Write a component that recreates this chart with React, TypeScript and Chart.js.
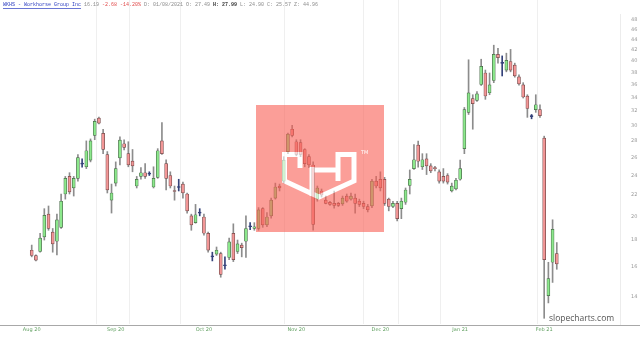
import React, { useEffect, useRef } from "react";
import { Chart, registerables } from "chart.js";

Chart.register(...registerables);

// Daily OHLC values
const opens = [
  17.2, 16.8, 17.1, 18.25, 20.2, 18.65, 17.9, 19.05, 22.1, 23.9,
  22.7, 23.7, 25.3, 24.95, 25.7, 28.7, 31.0, 28.95, 26.35, 21.5,
  23.2, 25.95, 27.65, 26.45, 25.6, 22.9, 23.9, 24.3, 24.2, 22.8,
  23.8, 28.0, 25.3, 24.0, 22.45, 22.8, 23.1, 22.1, 20.05, 19.45,
  20.35, 19.95, 18.55, 16.75, 16.9, 16.95, 16.1, 16.65, 18.55, 17.1,
  17.6, 17.9, 19.15, 18.95, 18.95, 20.7, 19.25, 20.05, 21.7, 22.9,
  23.4, 26.7, 29.5, 27.9, 27.8, 26.95, 26.1, 25.15, 21.6, 22.4,
  21.5, 21.3, 21.2, 21.2, 21.15, 21.9, 21.6, 21.7, 21.4, 21.2,
  20.9, 20.95, 23.4, 23.6, 23.6, 21.6, 20.9, 21.2, 20.7, 21.3,
  22.95, 24.75, 27.49, 24.95, 25.85, 25.05, 24.85, 24.4, 23.9, 24.0,
  22.4, 22.6, 23.6, 27.05, 31.8, 33.8, 33.55, 36.0, 37.9, 34.7,
  36.65, 41.2, 39.6, 38.4, 39.9, 39.25, 37.25, 35.95, 34.2, 31.25,
  32.2, 32.2, 28.35, 14.05, 16.3, 16.95,
];
const highs = [
  17.6, 16.85, 18.55, 20.7, 20.95, 18.95, 20.2, 22.1, 23.9, 24.3,
  23.9, 26.35, 25.85, 28.0, 28.25, 30.85, 31.15, 29.5, 26.7, 23.1,
  25.5, 28.5, 28.15, 27.9, 26.95, 23.9, 24.85, 25.3, 24.4, 24.95,
  27.05, 30.4, 25.75, 24.4, 22.9, 23.6, 23.3, 22.2, 20.2, 21.1,
  20.7, 20.2, 18.65, 17.05, 17.45, 17.05, 16.7, 18.15, 19.35, 18.0,
  17.75, 20.05, 19.45, 19.45, 20.8, 20.8, 20.35, 21.7, 23.2, 23.1,
  26.1, 29.0, 30.0, 28.15, 28.15, 27.05, 26.35, 25.5, 22.9, 22.6,
  21.9, 21.4, 22.4, 21.3, 21.9, 22.1, 22.2, 22.1, 21.6, 21.4,
  21.1, 23.6, 23.9, 24.4, 23.8, 21.7, 21.4, 21.4, 21.7, 22.7,
  24.6, 27.55, 27.99, 26.45, 26.45, 25.3, 25.0, 24.6, 24.75, 24.2,
  23.2, 23.7, 25.7, 32.5, 40.2, 34.4, 34.9, 40.3, 38.4, 37.9,
  42.9, 42.3, 40.9, 41.4, 42.1, 39.6, 37.6, 36.3, 34.4, 31.5,
  34.4, 32.9, 28.6, 16.3, 19.7, 17.8,
];
const lows = [
  16.7, 16.4, 17.05, 18.0, 18.8, 17.05, 16.85, 18.95, 21.6, 22.1,
  21.9, 23.4, 24.9, 24.75, 25.5, 28.15, 30.2, 26.45, 22.2, 20.3,
  22.9, 25.15, 26.9, 24.95, 24.4, 22.7, 23.6, 23.7, 24.0, 22.7,
  23.7, 26.35, 22.5, 22.7, 21.5, 22.4, 21.7, 20.3, 18.8, 19.4,
  20.05, 18.4, 17.05, 16.4, 16.8, 15.25, 15.8, 16.5, 16.35, 16.95,
  16.7, 16.65, 18.85, 18.8, 18.8, 19.05, 19.1, 19.85, 21.6, 22.4,
  23.2, 26.45, 28.5, 26.2, 26.1, 24.95, 24.85, 18.8, 21.4, 21.8,
  21.15, 21.0, 20.75, 20.9, 21.0, 21.3, 21.5, 20.3, 20.9, 20.7,
  20.4, 20.8, 22.7, 22.4, 21.0, 20.5, 20.8, 19.6, 19.8, 21.1,
  22.1, 24.65, 24.9, 24.65, 24.1, 24.3, 24.5, 23.2, 23.2, 23.1,
  22.3, 22.5, 23.5, 26.45, 31.5, 29.5, 33.4, 35.85, 33.7, 34.4,
  36.3, 39.6, 37.4, 38.1, 38.1, 37.2, 35.9, 33.9, 31.1, 30.9,
  31.8, 31.1, 12.7, 13.6, 14.9, 15.8,
];
const closes = [
  16.8, 16.45, 18.15, 20.1, 18.95, 17.7, 19.7, 21.4, 23.7, 22.3,
  23.7, 26.0, 25.25, 26.8, 28.0, 30.55, 30.3, 26.95, 22.5, 22.2,
  24.75, 28.1, 27.2, 25.15, 25.05, 23.6, 24.3, 23.9, 24.15, 23.7,
  26.8, 26.45, 23.7, 22.9, 22.35, 22.75, 22.2, 20.5, 19.25, 20.15,
  20.3, 18.55, 17.2, 16.7, 17.2, 15.45, 16.05, 17.85, 16.5, 17.7,
  17.4, 18.95, 19.1, 19.1, 20.6, 19.25, 19.95, 21.5, 22.8, 22.7,
  25.7, 28.85, 28.7, 26.35, 26.35, 25.3, 25.15, 19.3, 22.7, 22.0,
  21.2, 21.1, 21.0, 21.0, 21.7, 21.4, 21.9, 21.2, 21.1, 20.9,
  20.6, 23.4, 22.9, 22.7, 21.2, 20.9, 21.2, 19.8, 21.4, 22.5,
  23.6, 25.75, 25.57, 25.75, 25.05, 24.5, 24.75, 23.4, 23.4, 23.3,
  22.9, 23.5, 24.75, 32.2, 34.7, 33.05, 34.55, 39.05, 34.2, 35.95,
  41.2, 40.6, 39.55, 40.1, 38.4, 37.4, 36.1, 34.05, 32.35, 31.2,
  32.9, 31.35, 16.5, 15.15, 18.87, 16.19,
];

const monthLabels = ["Aug 20", "Sep 20", "Oct 20", "Nov 20", "Dec 20", "Jan 21", "Feb 21"];
const monthTickIndex = [0, 20, 41, 63, 83, 102, 122];
const priceTicks = [14, 16, 18, 20, 22, 24, 26, 28, 30, 32, 34, 36, 38, 40, 42, 44, 46, 48];
const gridIndex = [15.3, 23.2, 35.3, 60.1, 78.9, 87.2, 97.2, 120.3];

const headerParts = [
  { text: "WKHS - Workhorse Group Inc", color: "#2a3cc0", underline: true, bold: false },
  { text: " 16.19 ", color: "#8a8a8a", underline: false, bold: false },
  { text: "-2.68 -14.20%", color: "#e04848", underline: false, bold: false },
  { text: " D: 01/08/2021 O: 27.49 ", color: "#8a8a8a", underline: false, bold: false },
  { text: "H: 27.99", color: "#333333", underline: false, bold: true },
  { text: " L: 24.90 C: 25.57 Z: 44.96", color: "#8a8a8a", underline: false, bold: false },
];

const whiteBg = {
  id: "whiteBg",
  beforeDraw(chart: any) {
    const { ctx, width, height } = chart;
    ctx.save();
    ctx.fillStyle = "#ffffff";
    ctx.fillRect(0, 0, width, height);
    ctx.restore();
  },
};

const gridPlugin = {
  id: "gridLines",
  beforeDatasetsDraw(chart: any) {
    const { ctx, chartArea } = chart;
    const xs = chart.scales.x;
    ctx.save();
    ctx.strokeStyle = "#efefef";
    ctx.lineWidth = 1;
    gridIndex.forEach((g) => {
      const px = Math.round(xs.getPixelForValue(g)) + 0.5;
      ctx.beginPath();
      ctx.moveTo(px, 0);
      ctx.lineTo(px, chartArea.bottom);
      ctx.stroke();
    });
    ctx.restore();
  },
};

const overlayPlugin = {
  id: "overlay",
  afterDatasetsDraw(chart: any) {
    const { ctx, width, height } = chart;
    const off = document.createElement("canvas");
    off.width = width;
    off.height = height;
    const o = off.getContext("2d")!;
    o.fillStyle = "rgb(250,95,85)";
    o.fillRect(256, 105, 128, 127);
    o.strokeStyle = "#ffffff";
    o.fillStyle = "#ffffff";
    o.lineWidth = 5;
    o.lineJoin = "miter";
    o.lineCap = "butt";
    o.beginPath();
    o.moveTo(284.5, 152);
    o.lineTo(284.5, 181);
    o.lineTo(319, 197);
    o.lineTo(354, 181);
    o.lineTo(354, 152);
    o.moveTo(282, 154.5);
    o.lineTo(300, 154.5);
    o.lineTo(300, 168);
    o.moveTo(312, 167);
    o.lineTo(312, 196);
    o.moveTo(312, 170);
    o.lineTo(340, 170);
    o.moveTo(338, 181);
    o.lineTo(338, 154.5);
    o.lineTo(356, 154.5);
    o.stroke();
    o.font = "5px 'DejaVu Sans'";
    o.textBaseline = "middle";
    o.fillText("TM", 361, 153);
    ctx.save();
    ctx.globalAlpha = 0.6;
    ctx.drawImage(off, 0, 0);
    ctx.restore();
  },
};

const decorPlugin = {
  id: "decor",
  afterDraw(chart: any) {
    const { ctx, width } = chart;
    ctx.save();
    // bottom axis line
    ctx.strokeStyle = "#a8a8a8";
    ctx.lineWidth = 1;
    ctx.beginPath();
    ctx.moveTo(0, 325.5);
    ctx.lineTo(width, 325.5);
    ctx.stroke();
    // header
    let x = 3;
    const y = 5;
    ctx.textBaseline = "middle";
    headerParts.forEach((p) => {
      ctx.font = `${p.bold ? "bold " : ""}5px 'Liberation Mono'`;
      ctx.fillStyle = p.color;
      ctx.fillText(p.text, x, y);
      const w = ctx.measureText(p.text).width;
      if (p.underline) ctx.fillRect(x, y + 3, w, 0.7);
      x += w;
    });
    // site name
    ctx.font = "8.5px 'Open Sans'";
    ctx.fillStyle = "#555555";
    ctx.textBaseline = "middle";
    ctx.fillText("slopecharts.com", 549, 319);
    ctx.restore();
  },
};

export default function App() {
  const ref = useRef<HTMLCanvasElement>(null);

  useEffect(() => {
    const idx = opens.map((_, i) => i);
    const isDoji = (i: number) => Math.abs(closes[i] - opens[i]) / opens[i] < 0.0035;
    const up = (i: number) => closes[i] >= opens[i];
    const navy = "#34427a";

    const chart = new Chart(ref.current!, {
      type: "bar",
      data: {
        datasets: [
          {
            label: "body",
            data: idx.map((i) => ({ x: i, y: [opens[i], closes[i]] })) as any,
            backgroundColor: idx.map((i) => (isDoji(i) ? navy : up(i) ? "rgb(140,232,140)" : "rgb(242,150,150)")),
            borderColor: idx.map((i) => (isDoji(i) ? navy : up(i) ? "rgb(70,105,70)" : "rgb(115,70,70)")),
            borderWidth: 0.7,
            borderSkipped: false,
            barThickness: 3,
            minBarLength: 1,
            grouped: false,
          } as any,
          {
            label: "wick",
            data: idx.map((i) => ({ x: i, y: [lows[i], highs[i]] })) as any,
            backgroundColor: idx.map((i) => (isDoji(i) ? navy : "#8c8c8c")),
            borderWidth: 0,
            barThickness: 1,
            grouped: false,
          } as any,
        ],
      },
      options: {
        animation: false,
        responsive: false,
        devicePixelRatio: 1,
        layout: { padding: { top: 10, left: 0, right: 0, bottom: 0 } },
        plugins: { legend: { display: false }, tooltip: { enabled: false } },
        scales: {
          x: {
            type: "linear",
            min: -7.55,
            max: 140.05,
            bounds: "data",
            offset: false,
            grid: { display: false, drawTicks: false },
            border: { display: false },
            afterBuildTicks: (scale: any) => {
              scale.ticks = monthTickIndex.map((v) => ({ value: v }));
            },
            afterFit: (scale: any) => {
              scale.height = 13;
            },
            ticks: {
              autoSkip: false,
              maxRotation: 0,
              minRotation: 0,
              padding: 3,
              color: "#5f9f5f",
              font: { size: 5, family: "'DejaVu Sans'" },
              callback: (value: any) => {
                const k = monthTickIndex.indexOf(Number(value));
                return k >= 0 ? monthLabels[k] : "";
              },
            },
          },
          y: {
            type: "logarithmic",
            position: "right",
            min: 12.38,
            max: 49.3,
            bounds: "data",
            grid: { display: false, drawTicks: false },
            border: { display: true, color: "#ececec" },
            afterBuildTicks: (scale: any) => {
              scale.ticks = priceTicks.map((v) => ({ value: v }));
            },
            afterFit: (scale: any) => {
              scale.width = 20;
            },
            ticks: {
              autoSkip: false,
              padding: 11,
              color: "#9a9a9a",
              font: { size: 5, family: "'DejaVu Sans'" },
              callback: (value: any) => String(value),
            },
          },
        },
      } as any,
      plugins: [whiteBg, gridPlugin, overlayPlugin, decorPlugin],
    });
    return () => chart.destroy();
  }, []);

  return (
    <div style={{ position: "fixed", left: 0, top: 0, width: 640, height: 338, background: "#fff" }}>
      <canvas ref={ref} width={640} height={338} style={{ display: "block", width: 640, height: 338 }} />
    </div>
  );
}
